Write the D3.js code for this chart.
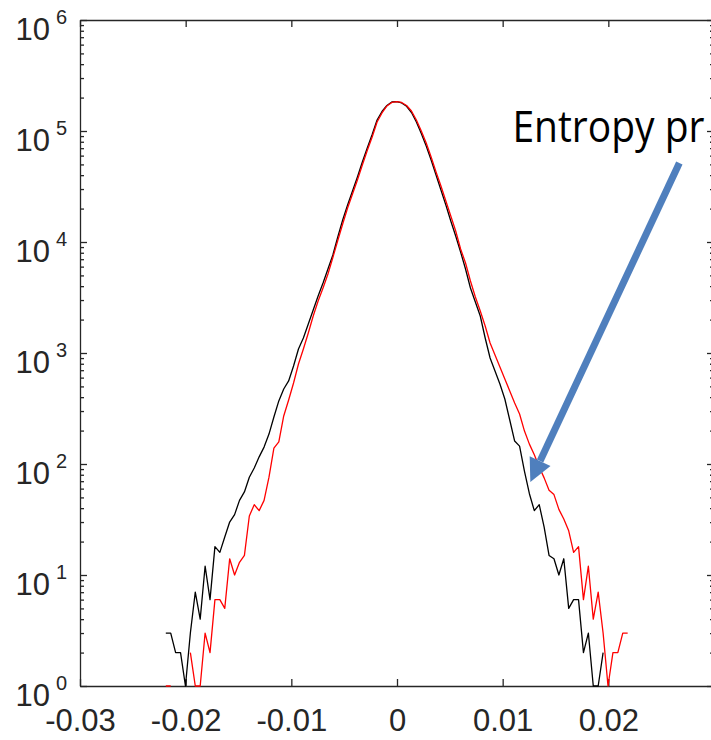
<!DOCTYPE html>
<html>
<head>
<meta charset="utf-8">
<script src="https://cdn.jsdelivr.net/npm/d3@7"></script>
<style>
  html, body { margin: 0; padding: 0; background: #fff; overflow: hidden; }
  svg { display: block; }
</style>
</head>
<body>
<div id="chart"></div>
<script>
// histogram bins (centre of first bin, bin width)
const binStart = -0.02188;
const binStep = 0.000465;

// counts per bin, null = empty bin (not drawn on log axis)
const blackCounts = [
    3, 3, 2, 2, 1, 3, 7, 4, 12, 6,
    18, 16, 22, 30, 35, 47, 56, 76, 92, 116,
    142, 186, 265, 370, 474, 560, 764, 1087, 1365, 1825,
    2436, 3266, 4275, 5714, 7640, 11090, 15780, 21540, 28790, 38520,
    52580, 70280, 92940, 125700, 149900, 169700, 182700, 184000, 179000, 167000,
    146800, 120500, 94950, 73260, 54800, 40140, 29410, 21540, 15460, 11330,
    8125, 5713, 3852, 2880, 2154, 1365, 902, 688, 526, 385,
    249, 161, 145, 86, 54, 38, 43, 27, 15, 14,
    10, 14, 5, 6, 6, 2, 3, 1, 1, 2,
    null, null, null, null, null
];

const redCounts = [
    1, 1, null, null, null, 2, 1, 1, 3, 2,
    6, 6, 5, 14, 10, 13, 15, 34, 43, 38,
    47, 76, 139, 158, 271, 377, 537, 796, 1087, 1514,
    2154, 2940, 3855, 5150, 7250, 10310, 14520, 20240, 27050, 36200,
    49390, 66720, 88310, 120500, 145300, 168000, 180700, 183600, 180700, 169700,
    151400, 125700, 100000, 77960, 58330, 42720, 31950, 23410, 17150, 12570,
    8650, 6470, 4450, 3195, 2390, 1750, 1230, 960, 748, 583,
    455, 354, 282, 198, 151, 121, 94, 75, 58, 53,
    39, 32, 25, 16, 18, 6, 12, 4, 7, 3,
    1, 2, 2, 3, 3
];

const xTicks = [-0.03, -0.02, -0.01, 0, 0.01, 0.02];
const xTickLabels = ["-0.03", "-0.02", "-0.01", "0", "0.01", "0.02"];
const yExponents = [0, 1, 2, 3, 4, 5, 6];

const noteText = "Entropy pr";
const noteAnchor = [0.01092, 79000];   // text start (x, count)
const arrowTail = [0.02672, 51500];
const arrowTip = [0.01262, 69];

const margin = {top: 20, left: 80};
const width = 634, height = 666;
const axisColor = "#262626";
const fontFamily = "'Liberation Sans', Arial, Helvetica, sans-serif";

const svg = d3.select("#chart").append("svg")
    .attr("width", 711)
    .attr("height", 740);

const g = svg.append("g")
    .attr("transform", `translate(${margin.left}, ${margin.top})`);

const x = d3.scaleLinear().domain([-0.03, 0.03]).range([0, width]);
const y = d3.scaleLog().domain([1, 1e6]).range([height, 0]);

const bins = d3.range(blackCounts.length).map(i => binStart + i * binStep);

// axes: ticks point inwards on all four sides
const majors = yExponents.map(e => Math.pow(10, e));
const minors = y.ticks().filter(v => !majors.includes(v));

function styleAxis(sel) {
    sel.selectAll("path, line").attr("stroke", axisColor).attr("stroke-width", 1.3);
}

g.append("g")
    .attr("transform", `translate(0, ${height})`)
    .call(d3.axisBottom(x).tickValues(xTicks).tickSizeInner(-7).tickSizeOuter(0)
        .tickPadding(23).tickFormat((d, i) => xTickLabels[i]))
    .call(styleAxis)
    .call(a => a.selectAll("text")
        .attr("fill", axisColor)
        .style("font-family", fontFamily)
        .style("font-size", "31px"));

g.append("g")
    .call(d3.axisTop(x).tickValues(xTicks).tickSizeInner(-7).tickSizeOuter(0).tickFormat(""))
    .call(styleAxis);

g.append("g")
    .call(d3.axisLeft(y).tickValues(majors).tickSizeInner(-7).tickSizeOuter(0).tickFormat(""))
    .call(styleAxis);

g.append("g")
    .call(d3.axisLeft(y).tickValues(minors).tickSizeInner(-4).tickSizeOuter(0).tickFormat(""))
    .call(a => a.select(".domain").remove())
    .call(styleAxis);

g.append("g")
    .attr("transform", `translate(${width}, 0)`)
    .call(d3.axisRight(y).tickValues(majors).tickSizeInner(-7).tickSizeOuter(0).tickFormat(""))
    .call(styleAxis);

g.append("g")
    .attr("transform", `translate(${width}, 0)`)
    .call(d3.axisRight(y).tickValues(minors).tickSizeInner(-4).tickSizeOuter(0).tickFormat(""))
    .call(a => a.select(".domain").remove())
    .call(styleAxis);

// 10^n labels
const yLabels = g.append("g").selectAll("text")
    .data(yExponents)
    .enter().append("text")
        .attr("x", -13)
        .attr("y", d => y(Math.pow(10, d)) + 19.5)
        .attr("text-anchor", "end")
        .attr("fill", axisColor)
        .style("font-family", fontFamily)
        .style("font-size", "31px");

yLabels.append("tspan").text("10");
yLabels.append("tspan")
    .attr("dx", 6)
    .attr("dy", -16)
    .style("font-size", "20px")
    .text(d => d);

// series
const line = d3.line()
    .defined(d => d.v != null)
    .x(d => x(d.x))
    .y(d => y(d.v));

const series = [
    {name: "black", color: "#000000", values: blackCounts},
    {name: "red", color: "#ff0000", values: redCounts}
];

g.selectAll("path.series")
    .data(series)
    .enter().append("path")
        .attr("class", "series")
        .attr("fill", "none")
        .attr("stroke", d => d.color)
        .attr("stroke-width", 1.3)
        .attr("stroke-linejoin", "round")
        .attr("d", d => line(d.values.map((v, i) => ({x: bins[i], v: v}))));

// annotation (squeezed a little so it stays inside the window)
g.append("text")
    .attr("transform", `translate(${x(noteAnchor[0])}, ${y(noteAnchor[1])}) scale(1, 1.12)`)
    .attr("fill", "#000")
    .style("font-family", "'Open Sans', 'Noto Sans', sans-serif")
    .style("font-size", "39px")
    .text(noteText);

const tail = [x(arrowTail[0]), y(arrowTail[1])];
const tip = [x(arrowTip[0]), y(arrowTip[1])];
const len = Math.hypot(tip[0] - tail[0], tip[1] - tail[1]);
const ux = (tip[0] - tail[0]) / len, uy = (tip[1] - tail[1]) / len;
const headLen = 23, headHalf = 11.5;
const base = [tip[0] - headLen * ux, tip[1] - headLen * uy];

const arrow = g.append("g").attr("class", "arrow");
arrow.append("line")
    .attr("x1", tail[0]).attr("y1", tail[1])
    .attr("x2", base[0]).attr("y2", base[1])
    .attr("stroke", "#4f7fbd")
    .attr("stroke-width", 7);
arrow.append("path")
    .attr("d", `M${tip[0]},${tip[1]}L${base[0] - headHalf * uy},${base[1] + headHalf * ux}L${base[0] + headHalf * uy},${base[1] - headHalf * ux}Z`)
    .attr("fill", "#4f7fbd");
</script>
</body>
</html>
